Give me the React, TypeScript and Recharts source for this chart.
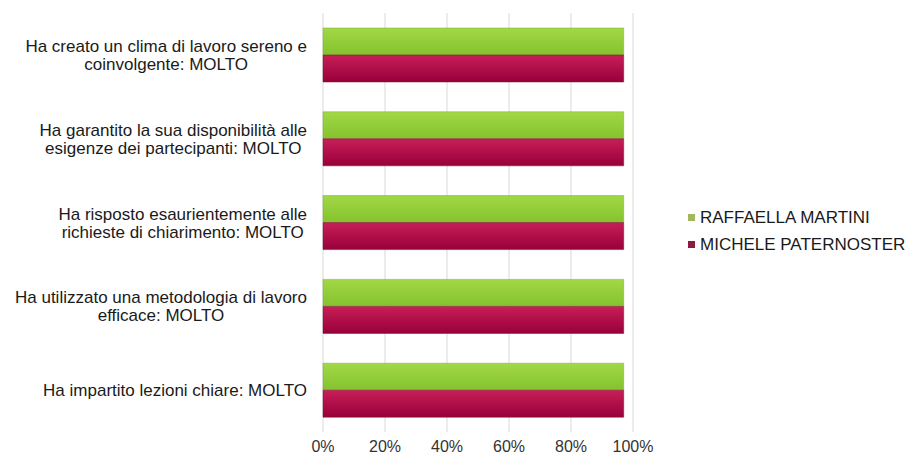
import React from "react";
import {
  BarChart,
  Bar,
  XAxis,
  YAxis,
  CartesianGrid,
} from "recharts";

// questions, top to bottom ("\n" marks where the label wraps)
const questions = [
  "Ha creato un clima di lavoro sereno e\ncoinvolgente: MOLTO",
  "Ha garantito la sua disponibilità alle\nesigenze dei partecipanti: MOLTO",
  "Ha risposto esaurientemente alle\nrichieste di chiarimento: MOLTO",
  "Ha utilizzato una metodologia di lavoro\nefficace: MOLTO",
  "Ha impartito lezioni chiare: MOLTO",
];
const martini = [0.97, 0.97, 0.97, 0.97, 0.97];
const paternoster = [0.97, 0.97, 0.97, 0.97, 0.97];
const xTicks = [0, 0.2, 0.4, 0.6, 0.8, 1];

const seriesNames = ["RAFFAELLA MARTINI", "MICHELE PATERNOSTER"];
const legendColors = ["#a3b85e", "#8b1c3e"];

const data = questions.map((q, i) => ({
  q,
  martini: martini[i],
  paternoster: paternoster[i],
}));

const FONT = "'Liberation Sans', Arial, sans-serif";
const LABEL_SIZE = 17;

let ctx: CanvasRenderingContext2D | null = null;
function textWidth(s: string) {
  if (!ctx) ctx = document.createElement("canvas").getContext("2d");
  if (!ctx) return s.length * 8;
  ctx.font = `${LABEL_SIZE}px 'Liberation Sans'`;
  return ctx.measureText(s).width;
}

function QuestionTick({ x, y, payload }: any) {
  const lines = String(payload.value).split("\n");
  const maxW = Math.max(...lines.map(textWidth));
  const cx = x - maxW / 2;
  const lh = 18;
  const y0 = y - ((lines.length - 1) * lh) / 2;
  return (
    <text
      textAnchor="middle"
      fontFamily={FONT}
      fontSize={LABEL_SIZE}
      fill="#1a1a1a"
    >
      {lines.map((l, i) => (
        <tspan key={i} x={cx} y={y0 + i * lh} dy="0.36em">
          {l}
        </tspan>
      ))}
    </text>
  );
}

function LegendBox() {
  return (
    <div
      style={{
        position: "absolute",
        left: 680,
        top: 196,
        fontFamily: FONT,
        fontSize: 17,
        color: "#1a1a1a",
      }}
    >
      {seriesNames.map((n, i) => (
        <div
          key={n}
          style={{ display: "flex", alignItems: "center", height: 27, whiteSpace: "nowrap" }}
        >
          <span
            style={{
              width: 7,
              height: 7,
              background: legendColors[i],
              marginRight: 5,
              display: "inline-block",
            }}
          />
          {n}
        </div>
      ))}
    </div>
  );
}

export default function App() {
  return (
    <div style={{ position: "relative", width: 905, height: 450 }}>
      <BarChart
        width={905}
        height={450}
        data={data}
        layout="vertical"
        margin={{ top: 5, right: 280, bottom: 0, left: 0 }}
        barGap={0}
      >
        <defs>
          <linearGradient id="gGreen" x1="0" y1="0" x2="0" y2="1">
            <stop offset="0%" stopColor="#a2d846" />
            <stop offset="100%" stopColor="#84c22e" />
          </linearGradient>
          <linearGradient id="gRed" x1="0" y1="0" x2="0" y2="1">
            <stop offset="0%" stopColor="#c81e58" />
            <stop offset="100%" stopColor="#98003a" />
          </linearGradient>
        </defs>
        <CartesianGrid horizontal={false} stroke="#d9d9d9" />
        <XAxis
          type="number"
          domain={[0, 1]}
          ticks={xTicks}
          tickFormatter={(v) => `${Math.round(v * 100)}%`}
          axisLine={false}
          tickLine={false}
          tickSize={0}
          tickMargin={9}
          height={26}
          tick={{ fontFamily: FONT, fontSize: 16, fill: "#333" }}
          interval={0}
        />
        <YAxis
          type="category"
          dataKey="q"
          width={315}
          axisLine={false}
          tickLine={false}
          tickSize={0}
          tickMargin={16}
          interval={0}
          tick={<QuestionTick />}
        />
        <Bar
          dataKey="martini"
          name={seriesNames[0]}
          fill="url(#gGreen)"
          stroke="#7aa83a"
          strokeWidth={0.5}
          barSize={27}
          isAnimationActive={false}
        />
        <Bar
          dataKey="paternoster"
          name={seriesNames[1]}
          fill="url(#gRed)"
          stroke="#7a1030"
          strokeWidth={0.5}
          barSize={27}
          isAnimationActive={false}
        />
      </BarChart>
      <LegendBox />
    </div>
  );
}
